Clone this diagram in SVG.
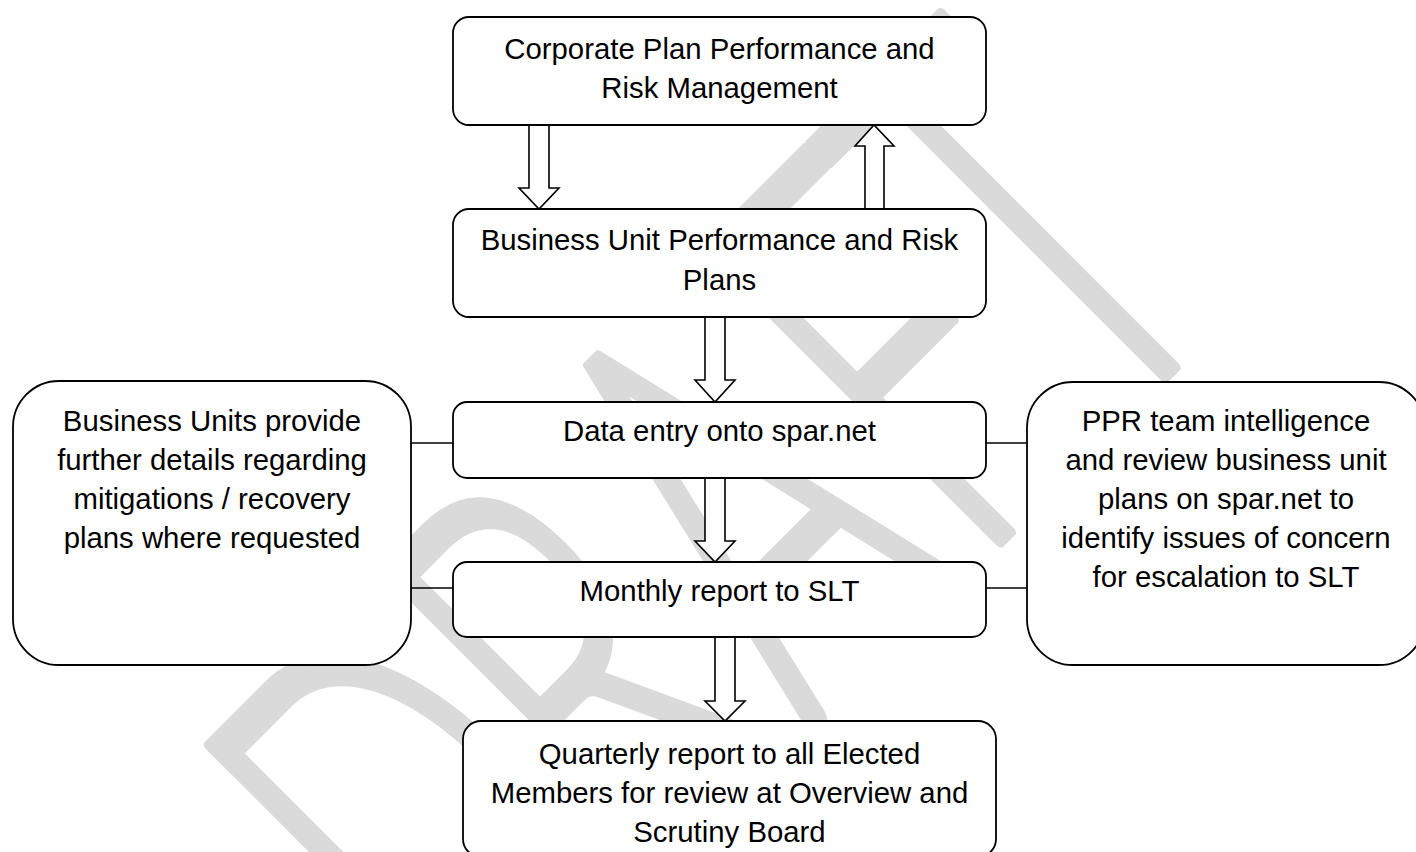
<svg xmlns="http://www.w3.org/2000/svg" width="1416" height="852" viewBox="0 0 1416 852">
  <style>
    .box { fill: #ffffff; stroke: #000000; stroke-width: 1.8; }
    .lbl { font-family: "Liberation Sans", Arial, sans-serif; font-size: 29.33px; fill: #000000; text-anchor: middle; }
    .link { stroke: #000000; stroke-width: 1.6; fill: none; }
    .blk { fill: #ffffff; stroke: #000000; stroke-width: 1.6; stroke-linejoin: miter; }
    .mark { font-family: Lato, "Open Sans", sans-serif; font-weight: 300; font-size: 586px; fill: #dadada; stroke: #dadada; stroke-width: 12; stroke-linejoin: round; }
  </style>

  <rect x="0" y="0" width="1416" height="852" fill="#ffffff"/>

  <!-- watermark -->
  <g id="watermark">
    <text class="mark" transform="translate(476.6,1065) rotate(-45) scale(0.58,1)" x="0 429 809 1212 1520" y="0">DRAFT</text>
  </g>

  <!-- connectors -->
  <g id="connectors">
    <line class="link" x1="411" y1="443" x2="453" y2="443"/>
    <line class="link" x1="411" y1="588" x2="453" y2="588"/>
    <line class="link" x1="986" y1="443" x2="1027" y2="443"/>
    <line class="link" x1="986" y1="588" x2="1027" y2="588"/>
    <!-- block arrows -->
    <polygon class="blk" points="529,125 549,125 549,188 559,188 539,209 519,188 529,188"/>
    <polygon class="blk" points="865,209 884,209 884,146 894,146 874,125 855,146 865,146"/>
    <polygon class="blk" points="705,317 725,317 725,380 735,380 715,402 695,380 705,380"/>
    <polygon class="blk" points="705,478 725,478 725,541 735,541 715,562 695,541 705,541"/>
    <polygon class="blk" points="715,637 735,637 735,701 745,701 725,721 705,701 715,701"/>
  </g>

  <g id="corporate-plan">
    <rect class="box" x="453" y="17" width="533" height="108" rx="16"/>
    <text class="lbl" x="719.5" y="59">Corporate Plan Performance and</text>
    <text class="lbl" x="719.5" y="98">Risk Management</text>
  </g>

  <g id="business-unit-plans">
    <rect class="box" x="453" y="209" width="533" height="108" rx="16"/>
    <text class="lbl" x="719.5" y="250">Business Unit Performance and Risk</text>
    <text class="lbl" x="719.5" y="290">Plans</text>
  </g>

  <g id="data-entry">
    <rect class="box" x="453" y="402" width="533" height="76" rx="14"/>
    <text class="lbl" x="719.5" y="441">Data entry onto spar.net</text>
  </g>

  <g id="monthly-report">
    <rect class="box" x="453" y="562" width="533" height="75" rx="14"/>
    <text class="lbl" x="719.5" y="601">Monthly report to SLT</text>
  </g>

  <g id="quarterly-report">
    <rect class="box" x="463" y="721" width="533" height="136" rx="18"/>
    <text class="lbl" x="729.5" y="764">Quarterly report to all Elected</text>
    <text class="lbl" x="729.5" y="803">Members for review at Overview and</text>
    <text class="lbl" x="729.5" y="842">Scrutiny Board</text>
  </g>

  <g id="business-units-detail">
    <rect class="box" x="13" y="381" width="398" height="284" rx="46"/>
    <text class="lbl" x="212" y="431">Business Units provide</text>
    <text class="lbl" x="212" y="470">further details regarding</text>
    <text class="lbl" x="212" y="509">mitigations / recovery</text>
    <text class="lbl" x="212" y="548">plans where requested</text>
  </g>

  <g id="ppr-team-review">
    <rect class="box" x="1027" y="382" width="398" height="283" rx="46"/>
    <text class="lbl" x="1226" y="431">PPR team intelligence</text>
    <text class="lbl" x="1226" y="470">and review business unit</text>
    <text class="lbl" x="1226" y="509">plans on spar.net to</text>
    <text class="lbl" x="1226" y="548">identify issues of concern</text>
    <text class="lbl" x="1226" y="587">for escalation to SLT</text>
  </g>
</svg>
